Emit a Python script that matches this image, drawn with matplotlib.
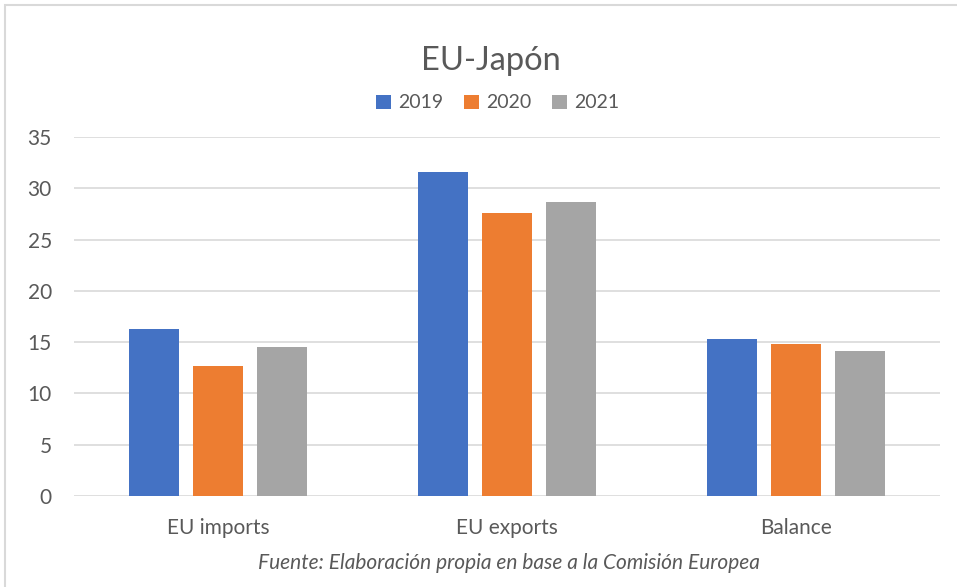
import numpy as np
import matplotlib.pyplot as plt
from matplotlib.patches import Rectangle

# Data
categories = ['EU imports', 'EU exports', 'Balance']
years = ['2019', '2020', '2021']
v2019 = [16.3, 31.6, 15.3]
v2020 = [12.7, 27.6, 14.8]
v2021 = [14.5, 28.7, 14.1]
colors = ['#4472C4', '#ED7D31', '#A5A5A5']

plt.rcParams['font.family'] = ['Lato', 'DejaVu Sans']
text_color = '#595959'

fig = plt.figure(figsize=(9.57, 5.87), dpi=100)
ax = fig.add_axes([74 / 957, 91 / 587, 866 / 957, 359 / 587])

x = np.arange(len(categories))
width = 0.173
step = 0.222
for i, (vals, yr) in enumerate(zip([v2019, v2020, v2021], years)):
    ax.bar(x + (i - 1) * step, vals, width=width, color=colors[i], label=yr,
           zorder=3)

ax.set_xlim(-0.5, 2.5)
ax.set_ylim(0, 35)
ax.set_yticks(range(0, 36, 5))
ax.set_xticks(x)
ax.set_xticklabels(categories)
ax.grid(axis='y', color='#D9D9D9', linewidth=1.2, zorder=0)
ax.tick_params(axis='both', length=0, labelsize=15, colors=text_color)
ax.tick_params(axis='x', pad=16)
ax.tick_params(axis='y', pad=16)
for s in ax.spines.values():
    s.set_visible(False)

# title, legend and source note
fig.text(0.513, 1 - 61 / 587, 'EU-Japón', ha='center', va='center',
         fontsize=23.5, color=text_color)
leg_y = 1 - 103 / 587
fig.legend(loc='center', bbox_to_anchor=(0.52, leg_y), ncol=3,
           frameon=False, fontsize=14, handlelength=0.75, handleheight=0.75,
           handletextpad=0.35, columnspacing=1.1, labelcolor=text_color)
fig.text(0.532, 1 - 563 / 587,
         'Fuente: Elaboración propia en base a la Comisión Europea',
         ha='center', va='center', fontsize=15, style='italic',
         color=text_color)

# outer chart border
border = Rectangle((5 / 957, -0.05), 1.1, 1 - 5 / 587 + 0.05,
                   transform=fig.transFigure, fill=False,
                   edgecolor='#D9D9D9', linewidth=1.5)
fig.patches.append(border)

fig.savefig('out.png', dpi=100)
